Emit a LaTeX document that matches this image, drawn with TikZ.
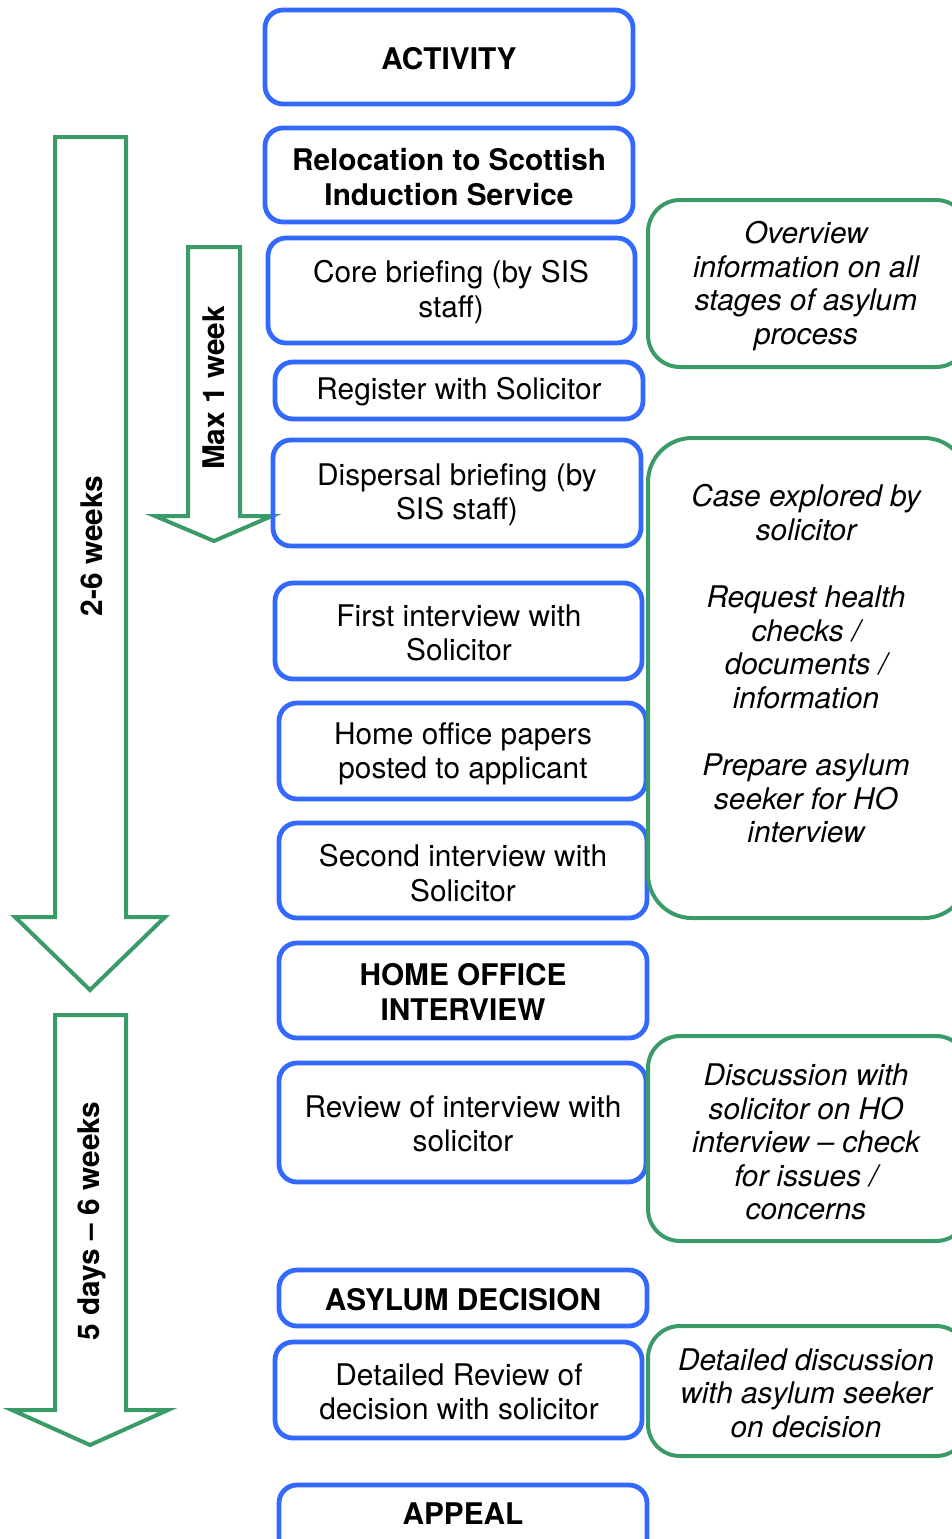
\documentclass[tikz,border=0pt]{standalone}
\usepackage{fontspec}
\setmainfont{TeX Gyre Heros}
\usepackage{xcolor}
\definecolor{boxblue}{RGB}{52,105,255}
\definecolor{boxgreen}{RGB}{58,155,105}

\begin{document}
\begin{tikzpicture}[x=0.5pt,y=-0.5pt,
  actbox/.style={draw=boxblue, line width=2.4pt, rounded corners=9pt},
  notebox/.style={draw=boxgreen, line width=2pt, rounded corners=16pt},
  timearrow/.style={draw=boxgreen, line width=2pt, fill=white},
  acttext/.style={align=center, yshift=-1pt, font=\fontsize{14.9}{17.2}\selectfont},
  notetext/.style={align=center, yshift=-1pt, font=\fontsize{14.9}{16.8}\selectfont\itshape},
  timetext/.style={rotate=90, font=\fontsize{14.9}{17}\selectfont\bfseries}]
\useasboundingbox (0,0) rectangle (952,1539);
\clip (0,0) rectangle (952,1539);

% time arrows
\draw[timearrow] (55,137) -- (126,137) -- (126,917) -- (165,917) -- (90,990) -- (15,917) -- (55,917) -- cycle;
\draw[timearrow] (55,1015) -- (126,1015) -- (126,1410) -- (168,1410) -- (90,1445) -- (12,1410) -- (55,1410) -- cycle;
\draw[timearrow] (188,247) -- (240,247) -- (240,516) -- (272,516) -- (214,541) -- (155,516) -- (188,516) -- cycle;
\node[timetext] (weeks) at (92,546) {2-6 weeks};
\node[timetext] (maxweek) at (214,388) {Max 1 week};
\node[timetext] (days) at (92,1221) {5 days -- 6 weeks};

% activities
\draw[actbox] (265,10) rectangle (633,104);
\node[acttext] (activity) at (449,57) {\bfseries ACTIVITY};
\draw[actbox] (265,128) rectangle (633,222);
\node[acttext] (relocation) at (449,175) {\bfseries Relocation to Scottish\\\bfseries Induction Service};
\draw[actbox] (268,238) rectangle (635,343);
\node[acttext] (core) at (451,290) {Core briefing (by SIS\\staff)};
\draw[actbox] (275,362) rectangle (643,419);
\node[acttext] (register) at (459,390) {Register with Solicitor};
\draw[actbox] (273,440) rectangle (641,546);
\node[acttext] (dispersal) at (457,493) {Dispersal briefing (by\\SIS staff)};
\draw[actbox] (275,583) rectangle (642,679);
\node[acttext] (first) at (459,631) {First interview with\\Solicitor};
\draw[actbox] (279,703) rectangle (646,799);
\node[acttext] (papers) at (463,752) {Home office papers\\posted to applicant};
\draw[actbox] (279,823) rectangle (647,918);
\node[acttext] (second) at (463,871) {Second interview with\\Solicitor};
\draw[actbox] (279,943) rectangle (647,1038);
\node[acttext] (hointerview) at (463,990) {\bfseries HOME OFFICE\\\bfseries INTERVIEW};
\draw[actbox] (279,1063) rectangle (646,1182);
\node[acttext] (review) at (463,1122) {Review of interview with\\solicitor};
\draw[actbox] (279,1270) rectangle (647,1326);
\node[acttext] (decision) at (463,1298) {\bfseries ASYLUM DECISION};
\draw[actbox] (275,1342) rectangle (642,1438);
\node[acttext] (detreview) at (459,1390) {Detailed Review of\\decision with solicitor};
\draw[actbox] (279,1485) rectangle (647,1580);
\node[acttext] (appeal) at (463,1512) {\bfseries APPEAL};

% notes
\draw[notebox] (648,200) rectangle (968,367);
\node[notetext] (overview) at (806,284) {Overview\\information on all\\stages of asylum\\process};
\draw[notebox, rounded corners=22pt] (648,438) rectangle (968,918);
\node[notetext] (explored) at (806,662) {Case explored by\\solicitor\\[16.8pt]Request health\\checks /\\documents /\\information\\[16.8pt]Prepare asylum\\seeker for HO\\interview};
\draw[notebox] (648,1036) rectangle (968,1241);
\node[notetext] (discussion) at (806,1140) {Discussion with\\solicitor on HO\\interview -- check\\for issues /\\concerns};
\draw[notebox] (648,1326) rectangle (968,1456);
\node[notetext] (detdiscussion) at (806,1391) {Detailed discussion\\with asylum seeker\\on decision};
\end{tikzpicture}
\end{document}
